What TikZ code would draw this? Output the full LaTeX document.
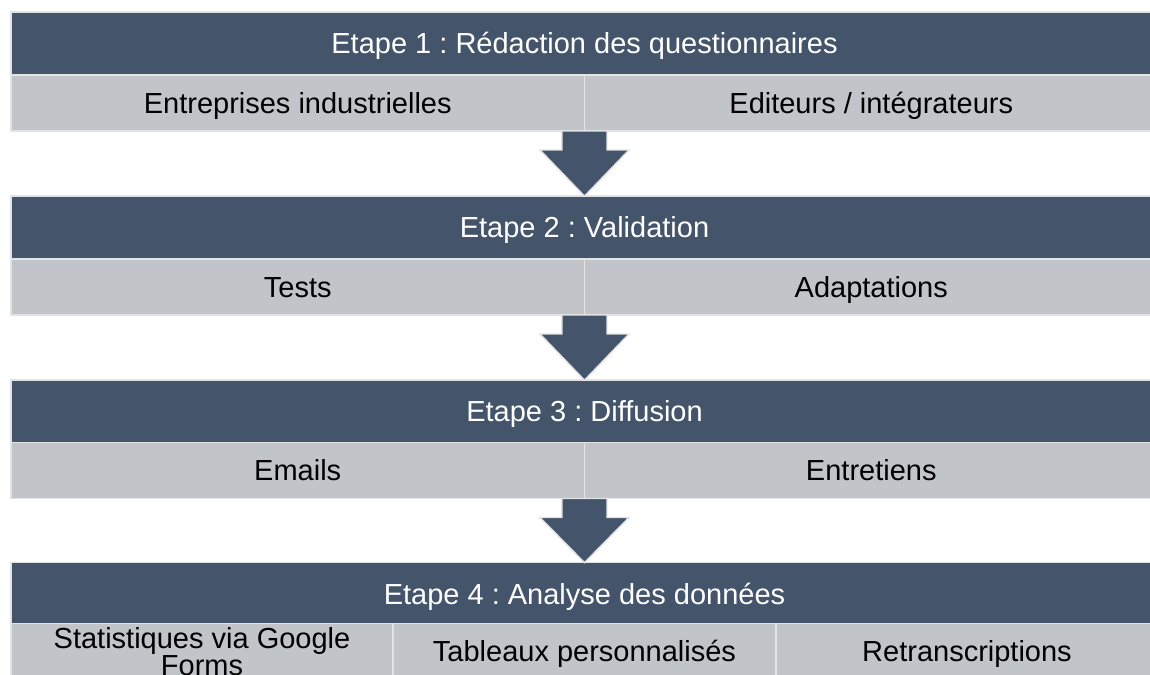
\documentclass[tikz,border=0pt]{standalone}
\usepackage{fontspec}
\setmainfont{Liberation Sans}
\usetikzlibrary{calc}
\definecolor{hdr}{HTML}{44546A}
\definecolor{cellgray}{HTML}{C1C4C8}
\definecolor{edgegray}{HTML}{E2E3E5}
\newcommand\mysz{\fontsize{21.75}{20.25}\selectfont\frenchspacing}
\tikzset{
  basebox/.style={draw=edgegray, line width=1.1pt, inner sep=0pt, outer sep=0pt, font=\mysz, align=center},
  oneline/.style={text height=18pt, text depth=2.4pt},
  hdrbox/.style={basebox, oneline, fill=hdr, text=white, minimum width=860.25pt, minimum height=47pt},
  cellbox/.style={basebox, fill=cellgray, text=black, minimum height=42pt},
  halfcell/.style={cellbox, oneline, minimum width=430.1pt},
  thirdcell/.style={cellbox, minimum width=286.75pt},
  downarrow/.style={fill=hdr, draw=edgegray, line width=1.1pt, line join=miter}
}
\begin{document}
\begin{tikzpicture}[x=0.75pt,y=-0.75pt]
\useasboundingbox (0,0) rectangle (1150,675);
\clip (0,0) rectangle (1150,675);

% Block 1
\node[hdrbox] (h1) at (584.5,43.5) {Etape 1 : Rédaction des questionnaires};
\node[halfcell] (c1a) at (297.75,103) {Entreprises industrielles};
\node[halfcell] (c1b) at (871.25,103) {Editeurs / intégrateurs};

% Block 2
\node[hdrbox] (h2) at (584.5,227.5) {Etape 2 : Validation};
\node[halfcell] (c2a) at (297.75,287) {Tests};
\node[halfcell] (c2b) at (871.25,287) {Adaptations};

% Block 3
\node[hdrbox] (h3) at (584.5,411.5) {Etape 3 : Diffusion};
\node[halfcell] (c3a) at (297.75,470.5) {Emails};
\node[halfcell] (c3b) at (871.25,470.5) {Entretiens};

% Block 4
\node[hdrbox] (h4) at (584.5,594) {Etape 4 : Analyse des données};
\node[thirdcell] (c4a) at (202,651.5) {Statistiques via Google\\Forms};
\node[thirdcell, oneline] (c4b) at (584.5,651.5) {Tableaux personnalisés};
\node[thirdcell, oneline] (c4c) at (967,651.5) {Retranscriptions};

% Arrows
\draw[downarrow] ($(c1a.south east)+(-22.5,0)$) -- ++(0,19) -- ++(-22,0) -- (h2.north)
  -- ($(c1a.south east)+(44.5,19)$) -- ++(-22,0) -- ++(0,-19) -- cycle;
\draw[downarrow] ($(c2a.south east)+(-22.5,0)$) -- ++(0,19) -- ++(-22,0) -- (h3.north)
  -- ($(c2a.south east)+(44.5,19)$) -- ++(-22,0) -- ++(0,-19) -- cycle;
\draw[downarrow] ($(c3a.south east)+(-22.5,0)$) -- ++(0,19) -- ++(-22,0) -- (h4.north)
  -- ($(c3a.south east)+(44.5,19)$) -- ++(-22,0) -- ++(0,-19) -- cycle;
\end{tikzpicture}
\end{document}
